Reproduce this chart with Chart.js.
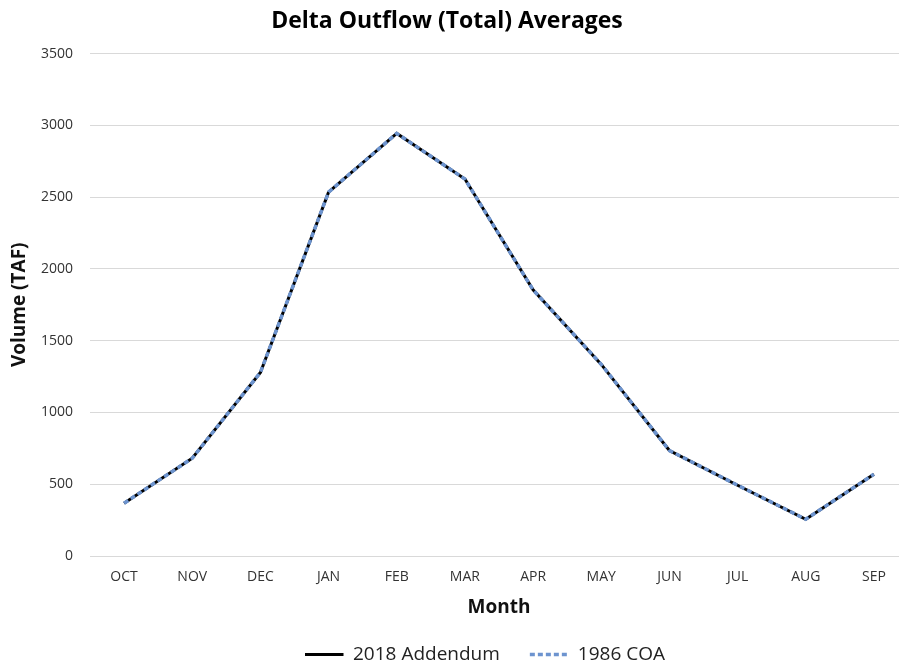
<!DOCTYPE html>
<html>
<head>
<meta charset="utf-8">
<script src="https://cdn.jsdelivr.net/npm/chart.js@4/dist/chart.umd.min.js"></script>
<style>
  html, body { margin: 0; padding: 0; background: #fff; overflow: hidden; }
  #wrap { width: 899px; height: 665px; overflow: hidden; }
</style>
</head>
<body>
<div id="wrap"><canvas id="chart" width="908" height="665"></canvas></div>
<script>
// Datos (TAF)
const meses = ['OCT', 'NOV', 'DEC', 'JAN', 'FEB', 'MAR', 'APR', 'MAY', 'JUN', 'JUL', 'AUG', 'SEP'];
const addendum2018 = [368, 681, 1279, 2535, 2944, 2626, 1854, 1335, 735, 493, 256, 570];
const coa1986 = [368, 681, 1279, 2535, 2944, 2626, 1854, 1335, 735, 493, 256, 570];
const ticksY = [0, 500, 1000, 1500, 2000, 2500, 3000, 3500];

const fuente = "'Open Sans', sans-serif";

// El gráfico original está recortado a la derecha: se corrige el centrado del título y la leyenda
const ajusteCajas = {
  id: 'ajusteCajas',
  afterLayout(chart) {
    chart.titleBlock.right -= 14;
    chart.legend.left -= 14;
    chart.legend.right -= 14;
  }
};

new Chart(document.getElementById('chart').getContext('2d'), {
  type: 'line',
  data: {
    labels: meses,
    datasets: [{
      label: '2018 Addendum',
      data: addendum2018,
      borderColor: '#000000',
      backgroundColor: '#000000',
      borderWidth: 3,
      pointRadius: 0,
      tension: 0,
      order: 1
    }, {
      label: '1986 COA',
      data: coa1986,
      borderColor: '#6d94cf',
      backgroundColor: '#6d94cf',
      borderWidth: 3.5,
      borderDash: [5, 3],
      pointRadius: 0,
      tension: 0,
      order: 0
    }]
  },
  options: {
    responsive: false,
    animation: false,
    layout: { padding: { left: 0, right: 0, top: 0, bottom: -9 } },
    scales: {
      x: {
        offset: true,
        grid: { display: false },
        border: { display: false },
        ticks: { color: '#333', font: { family: fuente, size: 14 }, padding: 5 },
        title: {
          display: true,
          text: 'Month',
          color: '#111',
          font: { family: fuente, size: 19, weight: 'bold' },
          padding: { top: 0, bottom: -4 }
        },
        afterFit: (scale) => { scale.height = 59; }
      },
      y: {
        min: 0,
        max: 3500,
        afterBuildTicks: (scale) => { scale.ticks = ticksY.map(v => ({ value: v })); },
        grid: { color: '#d9d9d9', lineWidth: 1, drawTicks: false },
        border: { display: false },
        ticks: {
          color: '#333',
          font: { family: fuente, size: 14 },
          padding: 17,
          callback: (v) => String(v)
        },
        title: {
          display: true,
          text: 'Volume (TAF)',
          color: '#111',
          font: { family: fuente, size: 19, weight: 'bold' },
          padding: { top: 8, bottom: 0 }
        },
        afterFit: (scale) => { scale.width = 90; }
      }
    },
    plugins: {
      title: {
        display: true,
        text: 'Delta Outflow (Total) Averages',
        color: '#000',
        font: { family: fuente, size: 23, weight: 'bold' },
        padding: { top: 8, bottom: 18 }
      },
      legend: {
        position: 'bottom',
        fullSize: false,
        labels: {
          color: '#222',
          font: { family: fuente, size: 19 },
          boxWidth: 38.5,
          boxHeight: 0,
          padding: 30,
          sort: (a, b) => a.datasetIndex - b.datasetIndex
        }
      },
      tooltip: { enabled: false }
    }
  },
  plugins: [ajusteCajas]
});
</script>
</body>
</html>
